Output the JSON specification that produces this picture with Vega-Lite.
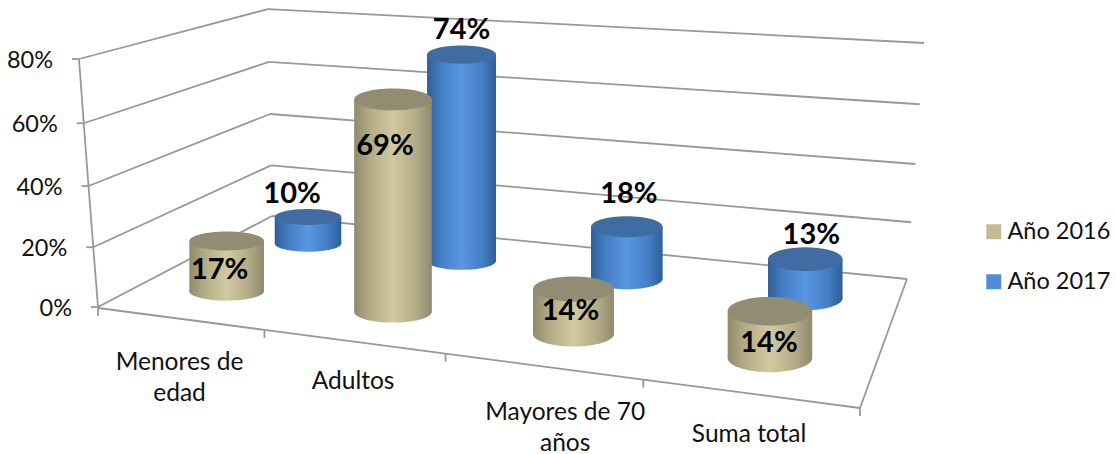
{
"$schema":"https://vega.github.io/schema/vega-lite/v6.json",
"width":1116,"height":454,"padding":0,"autosize":{"type":"none"},
"background":"white",
"config":{"view":{"stroke":null},"font":"Lato"},
"datasets":{
"values":[
{"category":"Menores de edad","series":"Año 2016","value":0.17},
{"category":"Adultos","series":"Año 2016","value":0.69},
{"category":"Mayores de 70 años","series":"Año 2016","value":0.14},
{"category":"Suma total","series":"Año 2016","value":0.14},
{"category":"Menores de edad","series":"Año 2017","value":0.10},
{"category":"Adultos","series":"Año 2017","value":0.74},
{"category":"Mayores de 70 años","series":"Año 2017","value":0.18},
{"category":"Suma total","series":"Año 2017","value":0.13}],
"ticks":[{"tick":0},{"tick":0.2},{"tick":0.4},{"tick":0.6},{"tick":0.8}],
"boundaries":[{"b":0},{"b":1},{"b":2},{"b":3},{"b":4}],
"cats":[
{"category":"Menores de edad","label":"Menores de\nedad"},
{"category":"Adultos","label":"Adultos"},
{"category":"Mayores de 70 años","label":"Mayores de 70\naños"},
{"category":"Suma total","label":"Suma total"}]
},
"data":{"name":"values"},
"transform":[
{"calculate":"(indexof(['Menores de edad','Adultos','Mayores de 70 años','Suma total'],datum.category)+0.5)/4","as":"u"},
{"calculate":"datum.series=='Año 2016'?0.25:0.75","as":"v"},
{"calculate":"1-0.1615*datum.u+0.2082*datum.v","as":"w"},
{"calculate":"(623.1*datum.u+232*datum.v+98)/datum.w","as":"bx"},
{"calculate":"(34.1*datum.u-47*datum.v+308)/datum.w","as":"by"},
{"calculate":"datum.by-305*datum.value/datum.w","as":"ty"},
{"calculate":"(datum.v<0.5?38.5:37.8)/datum.w","as":"rx"},
{"calculate":"datum.bx-datum.rx","as":"x0"},
{"calculate":"datum.bx+datum.rx","as":"x1"},
{"calculate":"4*datum.rx*datum.rx","as":"sz"},
{"calculate":"0.225+0.11*datum.u+(datum.v<0.5?0.015:0)","as":"r"},
{"calculate":"'M-1,0A1,'+datum.r+' 0 1 1 1,0A1,'+datum.r+' 0 1 1 -1,0Z'","as":"ell"},
{"calculate":"{'Menores de edad|Año 2016':[-7,29],'Adultos|Año 2016':[-8,47],'Mayores de 70 años|Año 2016':[-3,22],'Suma total|Año 2016':[-1,32],'Menores de edad|Año 2017':[-16,-23],'Adultos|Año 2017':[0,-25],'Mayores de 70 años|Año 2017':[2,-33],'Suma total|Año 2017':[6,-24]}[datum.category+'|'+datum.series]","as":"off"},
{"calculate":"datum.bx+datum.off[0]","as":"lx"},
{"calculate":"datum.ty+datum.off[1]","as":"ly"}
],
"encoding":{
"x":{"field":"bx","type":"quantitative","scale":{"domain":[0,1116],"nice":false,"zero":false},"axis":null},
"y":{"field":"by","type":"quantitative","scale":{"domain":[454,0],"nice":false,"zero":false},"axis":null}
},
"layer":[
{"data":{"name":"ticks"},
 "transform":[
 {"calculate":"98-datum.tick*23.75","as":"fx"},{"calculate":"307-datum.tick*295-datum.tick*datum.tick*18.75","as":"fy"},
 {"calculate":"272-datum.tick*5","as":"bkx"},{"calculate":"216-datum.tick*251.2-datum.tick*datum.tick*9.4","as":"bky"},
 {"calculate":"907+datum.tick*21.25","as":"rx"},{"calculate":"279-datum.tick*280-datum.tick*datum.tick*18.75","as":"ry"}],
 "layer":[
 {"mark":{"type":"rule","color":"#989898","strokeWidth":1.8},
  "encoding":{"x":{"field":"fx","type":"quantitative"},"y":{"field":"fy","type":"quantitative"},"x2":{"field":"bkx"},"y2":{"field":"bky"}}},
 {"mark":{"type":"rule","color":"#989898","strokeWidth":1.8},
  "encoding":{"x":{"field":"bkx","type":"quantitative"},"y":{"field":"bky","type":"quantitative"},"x2":{"field":"rx"},"y2":{"field":"ry"}}},
 {"mark":{"type":"line","color":"#989898","strokeWidth":1.8},
  "encoding":{"x":{"field":"fx","type":"quantitative"},"y":{"field":"fy","type":"quantitative"},"order":{"field":"tick"}}},
 {"transform":[{"calculate":"datum.fx-7","as":"tx"}],
  "mark":{"type":"rule","color":"#989898","strokeWidth":1.8},
  "encoding":{"x":{"field":"fx","type":"quantitative"},"y":{"field":"fy","type":"quantitative"},"x2":{"field":"tx"},"y2":{"field":"fy"}}},
 {"transform":[{"calculate":"datum.fx-26","as":"tx"},{"calculate":"datum.fy+1.5","as":"ty"}],
  "mark":{"type":"text","align":"right","baseline":"middle","font":"Lato","fontSize":23.5,"color":"#111111"},
  "encoding":{"x":{"field":"tx","type":"quantitative"},"y":{"field":"ty","type":"quantitative"},"text":{"field":"tick","type":"quantitative","format":".0%"}}},
 {"transform":[{"filter":"datum.tick==0"},{"calculate":"860","as":"ex"},{"calculate":"408","as":"ey"}],
  "mark":{"type":"rule","color":"#989898","strokeWidth":1.8},
  "encoding":{"x":{"field":"rx","type":"quantitative"},"y":{"field":"ry","type":"quantitative"},"x2":{"field":"ex"},"y2":{"field":"ey"}}}
 ]},
{"data":{"name":"boundaries"},
 "transform":[
 {"calculate":"datum.b/4","as":"u"},
 {"calculate":"1-0.1615*datum.u","as":"w"},
 {"calculate":"(623.1*datum.u+98)/datum.w","as":"fx"},
 {"calculate":"(34.1*datum.u+308)/datum.w","as":"fy"},
 {"calculate":"datum.fy+8","as":"fy2"}],
 "layer":[
 {"mark":{"type":"line","color":"#989898","strokeWidth":1.8},
  "encoding":{"x":{"field":"fx","type":"quantitative"},"y":{"field":"fy","type":"quantitative"},"order":{"field":"b"}}},
 {"mark":{"type":"rule","color":"#989898","strokeWidth":1.8},
  "encoding":{"x":{"field":"fx","type":"quantitative"},"y":{"field":"fy","type":"quantitative"},"x2":{"field":"fx"},"y2":{"field":"fy2"}}}
 ]},
{"data":{"name":"cats"},
 "transform":[
 {"calculate":"(indexof(['Menores de edad','Adultos','Mayores de 70 años','Suma total'],datum.category)+0.5)/4","as":"u"},
 {"calculate":"1-0.1615*datum.u","as":"w"},
 {"calculate":"(623.1*datum.u+98)/datum.w+(datum.category=='Mayores de 70 años'?23:0)","as":"fx"},
 {"calculate":"(34.1*datum.u+308)/datum.w+(datum.category=='Menores de edad'?44:datum.category=='Mayores de 70 años'?47:datum.category=='Adultos'?41:42)","as":"fy"}],
 "mark":{"type":"text","align":"center","baseline":"middle","lineBreak":"\n","lineHeight":31,"font":"Lato","fontSize":24.5,"color":"#111111"},
 "encoding":{"x":{"field":"fx","type":"quantitative"},"y":{"field":"fy","type":"quantitative"},"text":{"field":"label","type":"nominal"}}},
{"transform":[{"filter":"datum.series=='Año 2017'"}],
 "layer":[
 {"mark":{"type":"point","filled":true,"opacity":1,"strokeWidth":0,"fill":{"gradient":"linear","x1":0,"y1":0,"x2":1,"y2":0,"stops":[{"offset":0,"color":"#2f5f95"},{"offset":0.2,"color":"#447ec4"},{"offset":0.5,"color":"#5a96e2"},{"offset":0.8,"color":"#447ec4"},{"offset":1,"color":"#2f5f95"}]}},
  "encoding":{"size":{"field":"sz","type":"quantitative","scale":null,"legend":null},"shape":{"field":"ell","type":"nominal","scale":null,"legend":null}}},
 {"mark":{"type":"rect","fill":{"gradient":"linear","x1":0,"y1":0,"x2":1,"y2":0,"stops":[{"offset":0,"color":"#2f5f95"},{"offset":0.2,"color":"#447ec4"},{"offset":0.5,"color":"#5a96e2"},{"offset":0.8,"color":"#447ec4"},{"offset":1,"color":"#2f5f95"}]}},
  "encoding":{"x":{"field":"x0","type":"quantitative"},"x2":{"field":"x1"},"y":{"field":"ty","type":"quantitative"},"y2":{"field":"by"}}},
 {"mark":{"type":"point","filled":true,"opacity":1,"strokeWidth":0,"color":"#3f6da3"},
  "encoding":{"y":{"field":"ty","type":"quantitative"},"size":{"field":"sz","type":"quantitative","scale":null,"legend":null},"shape":{"field":"ell","type":"nominal","scale":null,"legend":null}}}
 ]},
{"transform":[{"filter":"datum.series=='Año 2016'"}],
 "layer":[
 {"mark":{"type":"point","filled":true,"opacity":1,"strokeWidth":0,"fill":{"gradient":"linear","x1":0,"y1":0,"x2":1,"y2":0,"stops":[{"offset":0,"color":"#8f8a6e"},{"offset":0.2,"color":"#b3ab87"},{"offset":0.5,"color":"#d1c9a0"},{"offset":0.8,"color":"#b3ab87"},{"offset":1,"color":"#8f8a6e"}]}},
  "encoding":{"size":{"field":"sz","type":"quantitative","scale":null,"legend":null},"shape":{"field":"ell","type":"nominal","scale":null,"legend":null}}},
 {"mark":{"type":"rect","fill":{"gradient":"linear","x1":0,"y1":0,"x2":1,"y2":0,"stops":[{"offset":0,"color":"#8f8a6e"},{"offset":0.2,"color":"#b3ab87"},{"offset":0.5,"color":"#d1c9a0"},{"offset":0.8,"color":"#b3ab87"},{"offset":1,"color":"#8f8a6e"}]}},
  "encoding":{"x":{"field":"x0","type":"quantitative"},"x2":{"field":"x1"},"y":{"field":"ty","type":"quantitative"},"y2":{"field":"by"}}},
 {"mark":{"type":"point","filled":true,"opacity":1,"strokeWidth":0,"color":"#918c72"},
  "encoding":{"y":{"field":"ty","type":"quantitative"},"size":{"field":"sz","type":"quantitative","scale":null,"legend":null},"shape":{"field":"ell","type":"nominal","scale":null,"legend":null}}}
 ]},
{"mark":{"type":"text","align":"center","baseline":"middle","font":"Lato","fontWeight":"bold","fontSize":29,"color":"#000000"},
 "encoding":{"x":{"field":"lx","type":"quantitative"},"y":{"field":"ly","type":"quantitative"},"text":{"field":"value","type":"quantitative","format":".0%"}}},
{"mark":{"type":"point","filled":true,"opacity":1,"shape":"square","size":0,"strokeWidth":0},
 "encoding":{"color":{"field":"series","type":"nominal","scale":{"domain":["Año 2016","Año 2017"],"range":["#c4ba94","#538cd6"]},
  "legend":{"title":null,"orient":"none","legendX":982,"legendY":220,"symbolType":"square","symbolSize":225,"symbolStrokeWidth":0,"symbolOpacity":1,"labelFont":"Lato","labelFontSize":23.5,"labelColor":"#111111","labelOffset":2,"rowPadding":25,"labelLimit":200}}}}
]
}
